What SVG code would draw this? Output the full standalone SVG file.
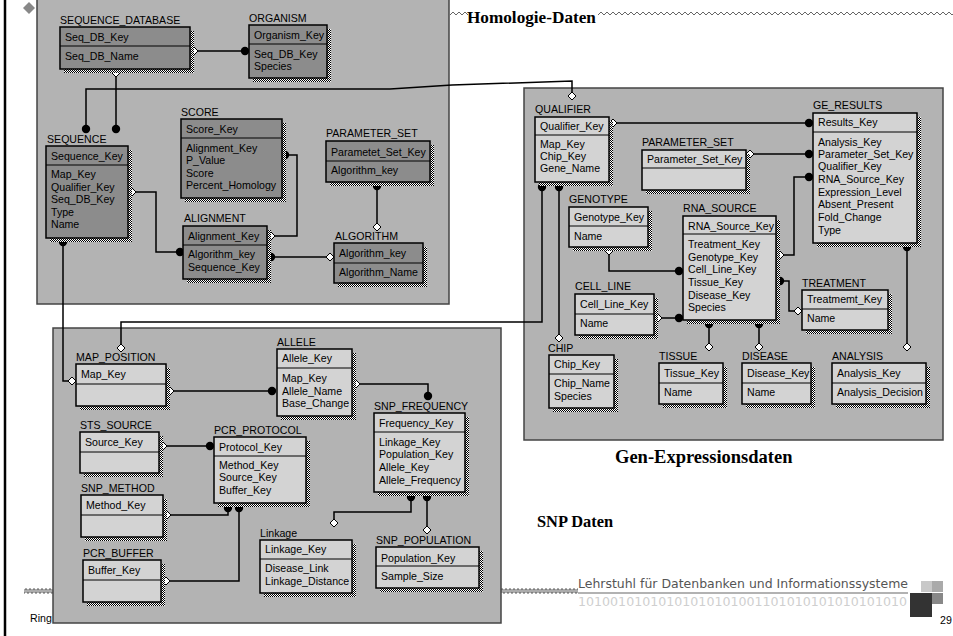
<svg xmlns="http://www.w3.org/2000/svg" width="953" height="636" viewBox="0 0 953 636">
<defs>
<pattern id="dots" width="2" height="2" patternUnits="userSpaceOnUse"><rect width="2" height="2" fill="#fff"/><rect width="1" height="1" fill="#000"/><rect x="1" y="1" width="1" height="1" fill="#000"/></pattern>
<pattern id="sq" x="0" y="588" width="4" height="6" patternUnits="userSpaceOnUse"><path d="M0,5 H1 V1 H3 V5 H4" fill="none" stroke="#444" stroke-width="0.9"/></pattern>
<path id="dm" d="M0,-4 L4,0 L0,4 L-4,0 Z"/>
</defs>
<style>
.t{font-family:"Liberation Sans",Arial,sans-serif;font-size:10.6px;fill:#000}
.ttl{font-family:"Liberation Serif","Times New Roman",serif;font-weight:bold;fill:#000}
.bd{fill:#8c8c8c;stroke:#000;stroke-width:1.5}
.bl{fill:#d3d3d3;stroke:#000;stroke-width:1.5}
.sh{fill:url(#dots)}
.sep{stroke:#000;stroke-width:1}
.pn{fill:#b3b3b3;stroke:#444;stroke-width:1.5}
.c{fill:none;stroke:#000;stroke-width:1.5}
.dt{fill:#000}
.di{fill:#fff;stroke:#000;stroke-width:1}
.zz{fill:none;stroke:#666;stroke-width:1}
</style>
<rect width="953" height="636" fill="#fff"/>
<line x1="5" y1="0" x2="5" y2="636" stroke="#000" stroke-width="2.5"/>
<path d="M29,2 L35,8 L29,14 L23,8 Z" fill="#888"/>

<g id="panels">
<rect class="pn" x="37" y="-1" width="412" height="305"/>
<rect class="pn" x="524" y="88" width="419" height="352"/>
<rect class="pn" x="53" y="328" width="448" height="295"/>
</g>

<g id="captions">
<polyline class="zz" points="450,15 453,12 456,15 459,12 462,15 465,12 468,15"/>
<polyline class="zz" points="598,15 601,12 604,15 607,12 610,15 613,12 616,15 619,12 622,15 625,12 628,15 631,12 634,15 637,12 640,15 643,12 646,15 649,12 652,15 655,12 658,15 661,12 664,15 667,12 670,15 673,12 676,15 679,12 682,15 685,12 688,15 691,12 694,15 697,12 700,15 703,12 706,15 709,12 712,15 715,12 718,15 721,12 724,15 727,12 730,15 733,12 736,15 739,12 742,15 745,12 748,15 751,12 754,15 757,12 760,15 763,12 766,15 769,12 772,15 775,12 778,15 781,12 784,15 787,12 790,15 793,12 796,15 799,12 802,15 805,12 808,15 811,12 814,15 817,12 820,15 823,12 826,15 829,12 832,15 835,12 838,15 841,12 844,15 847,12 850,15 853,12 856,15 859,12 862,15 865,12 868,15 871,12 874,15 877,12 880,15 883,12 886,15 889,12 892,15 895,12 898,15 901,12 904,15 907,12 910,15 913,12 916,15 919,12 922,15 925,12 928,15 931,12 934,15 937,12 940,15 943,12 946,15 949,12 952,15 955,12"/>
<text class="ttl" x="467" y="23" font-size="17.2">Homologie-Daten</text>
<text class="ttl" x="615" y="463" font-size="18.5">Gen-Expressionsdaten</text>
<text class="ttl" x="537" y="527" font-size="16.4">SNP Daten</text>
</g>

<g id="footer">
<rect x="24" y="588" width="29" height="6" fill="url(#sq)"/>
<rect x="501" y="588" width="77" height="6" fill="url(#sq)"/>
<text x="578" y="588" font-family="'DejaVu Sans',sans-serif" font-size="12" fill="#555" textLength="330" lengthAdjust="spacingAndGlyphs">Lehrstuhl für Datenbanken und Informationssysteme</text>
<line x1="578" y1="593" x2="908" y2="593" stroke="#999" stroke-width="1.5"/>
<text x="578" y="606" font-family="'DejaVu Sans',sans-serif" font-size="12" fill="#cfcfcf" textLength="329" lengthAdjust="spacingAndGlyphs">10100101010101010101001101010101010101010</text>
<rect x="921" y="581" width="11" height="11" fill="#c8c8c8"/>
<rect x="932" y="581" width="11" height="11" fill="#aaa"/>
<rect x="921" y="593" width="11" height="11" fill="#c8c8c8"/>
<rect x="932" y="593" width="11" height="11" fill="#888"/>
<rect x="910" y="593" width="22" height="24" fill="#333"/>
<text class="t" x="30" y="622">Ring</text>
<text class="t" x="940" y="624">29</text>
</g>

<g id="connectors">
<path class="c" d="M194,51 H245"/>
<path class="c" d="M116,73 V129"/>
<path class="c" d="M86,129 V89 H390 L452,85 L572,81 V92"/>
<path class="c" d="M132,192 H156 V252 H180"/>
<path class="c" d="M285,155 H297 V236 H271"/>
<path class="c" d="M271,257 H330"/>
<path class="c" d="M377,186 V227"/>
<path class="c" d="M63,242 V381 H69"/>
<path class="c" d="M542,187 V322 H121 V344"/>
<path class="c" d="M559,187 V334"/>
<path class="c" d="M613,123 H809"/>
<path class="c" d="M750,154 H809"/>
<path class="c" d="M780,255 H794 V177 H809"/>
<path class="c" d="M609,251 V271 H679"/>
<path class="c" d="M658,318 H679"/>
<path class="c" d="M780,281 H789 V311 H798"/>
<path class="c" d="M709,324 V347"/>
<path class="c" d="M759,324 V347"/>
<path class="c" d="M907,247 V347"/>
<path class="c" d="M170,391 H272"/>
<path class="c" d="M356,384 H428 V396"/>
<path class="c" d="M163,446 H210"/>
<path class="c" d="M228,508 V515 H167"/>
<path class="c" d="M239,508 V581 H166"/>
<path class="c" d="M411,497 V512 H334 V523"/>
<path class="c" d="M427,497 V530"/>
<g class="dt">
<circle cx="245" cy="51" r="4.2"/><circle cx="116" cy="129" r="4.2"/><circle cx="86" cy="129" r="4.2"/>
<circle cx="180" cy="252" r="4.2"/><circle cx="285" cy="155" r="4.2"/><circle cx="271" cy="257" r="4.2"/>
<circle cx="377" cy="186" r="4.2"/><circle cx="63" cy="242" r="4.2"/><circle cx="542" cy="187" r="4.2"/>
<circle cx="559" cy="187" r="4.2"/><circle cx="809" cy="123" r="4.2"/><circle cx="809" cy="154" r="4.2"/>
<circle cx="809" cy="177" r="4.2"/><circle cx="679" cy="271" r="4.2"/><circle cx="679" cy="318" r="4.2"/>
<circle cx="780" cy="281" r="4.2"/><circle cx="709" cy="324" r="4.2"/><circle cx="759" cy="324" r="4.2"/>
<circle cx="907" cy="247" r="4.2"/><circle cx="272" cy="391" r="4.2"/><circle cx="428" cy="396" r="4.2"/>
<circle cx="210" cy="446" r="4.2"/><circle cx="228" cy="508" r="4.2"/><circle cx="239" cy="508" r="4.2"/>
<circle cx="411" cy="497" r="4.2"/><circle cx="427" cy="497" r="4.2"/>
</g>
<g class="di">
<use href="#dm" x="194" y="51"/><use href="#dm" x="116" y="73"/><use href="#dm" x="572" y="96"/>
<use href="#dm" x="132" y="192"/><use href="#dm" x="271" y="236"/><use href="#dm" x="330" y="257"/>
<use href="#dm" x="377" y="227"/><use href="#dm" x="72" y="381"/><use href="#dm" x="121" y="348"/>
<use href="#dm" x="559" y="338"/><use href="#dm" x="613" y="123"/><use href="#dm" x="750" y="154"/>
<use href="#dm" x="780" y="255"/><use href="#dm" x="609" y="251"/><use href="#dm" x="658" y="318"/>
<use href="#dm" x="798" y="311"/><use href="#dm" x="709" y="347"/><use href="#dm" x="759" y="347"/>
<use href="#dm" x="907" y="347"/><use href="#dm" x="170" y="391"/><use href="#dm" x="356" y="384"/>
<use href="#dm" x="163" y="446"/><use href="#dm" x="167" y="515"/><use href="#dm" x="166" y="581"/>
<use href="#dm" x="334" y="523"/><use href="#dm" x="427" y="530"/>
</g>
</g>

<g id="SEQUENCE_DATABASE">
<rect class="sh" x="64" y="31" width="130" height="42"/><rect class="bd" x="60" y="27" width="130" height="42"/>
<line class="sep" x1="60" y1="46" x2="190" y2="46"/>
<text class="t" x="60" y="24">SEQUENCE_DATABASE</text>
<text class="t" x="65" y="41">Seq_DB_Key</text><text class="t" x="65" y="60">Seq_DB_Name</text>
</g>
<g id="ORGANISM">
<rect class="sh" x="253" y="29" width="78" height="53"/><rect class="bd" x="249" y="25" width="78" height="53"/>
<line class="sep" x1="249" y1="44" x2="327" y2="44"/>
<text class="t" x="249" y="22">ORGANISM</text>
<text class="t" x="254" y="39">Organism_Key</text><text class="t" x="254" y="58">Seq_DB_Key</text><text class="t" x="254" y="70">Species</text>
</g>
<g id="SEQUENCE">
<rect class="sh" x="50" y="150" width="82" height="92"/><rect class="bd" x="46" y="146" width="82" height="92"/>
<line class="sep" x1="46" y1="165" x2="128" y2="165"/>
<text class="t" x="47" y="143">SEQUENCE</text>
<text class="t" x="51" y="160">Sequence_Key</text><text class="t" x="51" y="178">Map_Key</text><text class="t" x="51" y="191">Qualifier_Key</text><text class="t" x="51" y="203">Seq_DB_Key</text><text class="t" x="51" y="216">Type</text><text class="t" x="51" y="228">Name</text>
</g>
<g id="SCORE">
<rect class="sh" x="185" y="123" width="101" height="79"/><rect class="bd" x="181" y="119" width="101" height="79"/>
<line class="sep" x1="181" y1="138" x2="282" y2="138"/>
<text class="t" x="181" y="116">SCORE</text>
<text class="t" x="186" y="133">Score_Key</text><text class="t" x="186" y="152">Alignment_Key</text><text class="t" x="186" y="164">P_Value</text><text class="t" x="186" y="177">Score</text><text class="t" x="186" y="189">Percent_Homology</text>
</g>
<g id="ALIGNMENT">
<rect class="sh" x="187" y="230" width="84" height="53"/><rect class="bd" x="183" y="226" width="84" height="53"/>
<line class="sep" x1="183" y1="245" x2="267" y2="245"/>
<text class="t" x="184" y="222">ALIGNMENT</text>
<text class="t" x="188" y="240">Alignment_Key</text><text class="t" x="188" y="258">Algorithm_key</text><text class="t" x="188" y="271">Sequence_Key</text>
</g>
<g id="PARAMETER_SET_H">
<rect class="sh" x="330" y="145" width="104" height="41"/><rect class="bd" x="326" y="141" width="104" height="41"/>
<line class="sep" x1="326" y1="161" x2="430" y2="161"/>
<text class="t" x="326" y="137">PARAMETER_SET</text>
<text class="t" x="331" y="156">Parametet_Set_Key</text><text class="t" x="331" y="174">Algorithm_key</text>
</g>
<g id="ALGORITHM">
<rect class="sh" x="338" y="247" width="89" height="40"/><rect class="bd" x="334" y="243" width="89" height="40"/>
<line class="sep" x1="334" y1="263" x2="423" y2="263"/>
<text class="t" x="335" y="240">ALGORITHM</text>
<text class="t" x="339" y="257">Algorithm_key</text><text class="t" x="339" y="276">Algorithm_Name</text>
</g>

<g id="QUALIFIER">
<rect class="sh" x="539" y="121" width="74" height="65"/><rect class="bl" x="535" y="117" width="74" height="65"/>
<line class="sep" x1="535" y1="135" x2="609" y2="135"/>
<text class="t" x="535" y="113">QUALIFIER</text>
<text class="t" x="540" y="130">Qualifier_Key</text><text class="t" x="540" y="148">Map_Key</text><text class="t" x="540" y="160">Chip_Key</text><text class="t" x="540" y="172">Gene_Name</text>
</g>
<g id="GE_RESULTS">
<rect class="sh" x="817" y="117" width="104" height="130"/><rect class="bl" x="813" y="113" width="104" height="130"/>
<line class="sep" x1="813" y1="132" x2="917" y2="132"/>
<text class="t" x="813" y="109">GE_RESULTS</text>
<text class="t" x="818" y="126">Results_Key</text><text class="t" x="818" y="146">Analysis_Key</text><text class="t" x="818" y="158">Parameter_Set_Key</text><text class="t" x="818" y="170">Qualifier_Key</text><text class="t" x="818" y="183">RNA_Source_Key</text><text class="t" x="818" y="196">Expression_Level</text><text class="t" x="818" y="208">Absent_Present</text><text class="t" x="818" y="221">Fold_Change</text><text class="t" x="818" y="234">Type</text>
</g>
<g id="PARAMETER_SET_G">
<rect class="sh" x="646" y="154" width="104" height="40"/><rect class="bl" x="642" y="150" width="104" height="40"/>
<line class="sep" x1="642" y1="168" x2="746" y2="168"/>
<text class="t" x="642" y="146">PARAMETER_SET</text>
<text class="t" x="647" y="163">Parameter_Set_Key</text>
</g>
<g id="GENOTYPE">
<rect class="sh" x="573" y="211" width="79" height="40"/><rect class="bl" x="569" y="207" width="79" height="40"/>
<line class="sep" x1="569" y1="226" x2="648" y2="226"/>
<text class="t" x="569" y="203">GENOTYPE</text>
<text class="t" x="574" y="221">Genotype_Key</text><text class="t" x="574" y="240">Name</text>
</g>
<g id="RNA_SOURCE">
<rect class="sh" x="687" y="220" width="93" height="104"/><rect class="bl" x="683" y="216" width="93" height="104"/>
<line class="sep" x1="683" y1="234" x2="776" y2="234"/>
<text class="t" x="683" y="212">RNA_SOURCE</text>
<text class="t" x="688" y="230">RNA_Source_Key</text><text class="t" x="688" y="248">Treatment_Key</text><text class="t" x="688" y="261">Genotype_Key</text><text class="t" x="688" y="273">Cell_Line_Key</text><text class="t" x="688" y="286">Tissue_Key</text><text class="t" x="688" y="299">Disease_Key</text><text class="t" x="688" y="311">Species</text>
</g>
<g id="TREATMENT">
<rect class="sh" x="806" y="294" width="86" height="40"/><rect class="bl" x="802" y="290" width="86" height="40"/>
<line class="sep" x1="802" y1="309" x2="888" y2="309"/>
<text class="t" x="802" y="287">TREATMENT</text>
<text class="t" x="807" y="303">Treatmemt_Key</text><text class="t" x="807" y="322">Name</text>
</g>
<g id="CELL_LINE">
<rect class="sh" x="579" y="298" width="79" height="41"/><rect class="bl" x="575" y="294" width="79" height="41"/>
<line class="sep" x1="575" y1="314" x2="654" y2="314"/>
<text class="t" x="575" y="290">CELL_LINE</text>
<text class="t" x="580" y="308">Cell_Line_Key</text><text class="t" x="580" y="327">Name</text>
</g>
<g id="CHIP">
<rect class="sh" x="553" y="359" width="65" height="53"/><rect class="bl" x="549" y="355" width="65" height="53"/>
<line class="sep" x1="549" y1="374" x2="614" y2="374"/>
<text class="t" x="548" y="352">CHIP</text>
<text class="t" x="554" y="368">Chip_Key</text><text class="t" x="554" y="387">Chip_Name</text><text class="t" x="554" y="400">Species</text>
</g>
<g id="TISSUE">
<rect class="sh" x="663" y="367" width="64" height="41"/><rect class="bl" x="659" y="363" width="64" height="41"/>
<line class="sep" x1="659" y1="383" x2="723" y2="383"/>
<text class="t" x="659" y="360">TISSUE</text>
<text class="t" x="664" y="377">Tissue_Key</text><text class="t" x="664" y="396">Name</text>
</g>
<g id="DISEASE">
<rect class="sh" x="746" y="367" width="69" height="41"/><rect class="bl" x="742" y="363" width="69" height="41"/>
<line class="sep" x1="742" y1="383" x2="811" y2="383"/>
<text class="t" x="742" y="360">DISEASE</text>
<text class="t" x="747" y="377">Disease_Key</text><text class="t" x="747" y="396">Name</text>
</g>
<g id="ANALYSIS">
<rect class="sh" x="836" y="367" width="94" height="41"/><rect class="bl" x="832" y="363" width="94" height="41"/>
<line class="sep" x1="832" y1="383" x2="926" y2="383"/>
<text class="t" x="832" y="360">ANALYSIS</text>
<text class="t" x="837" y="377">Analysis_Key</text><text class="t" x="837" y="396">Analysis_Decision</text>
</g>

<g id="MAP_POSITION">
<rect class="sh" x="80" y="368" width="90" height="42"/><rect class="bl" x="76" y="364" width="90" height="42"/>
<line class="sep" x1="76" y1="384" x2="166" y2="384"/>
<text class="t" x="76" y="361">MAP_POSITION</text>
<text class="t" x="81" y="378">Map_Key</text>
</g>
<g id="ALLELE">
<rect class="sh" x="281" y="353" width="75" height="67"/><rect class="bl" x="277" y="349" width="75" height="67"/>
<line class="sep" x1="277" y1="368" x2="352" y2="368"/>
<text class="t" x="277" y="346">ALLELE</text>
<text class="t" x="282" y="362">Allele_Key</text><text class="t" x="282" y="382">Map_Key</text><text class="t" x="282" y="395">Allele_Name</text><text class="t" x="282" y="407">Base_Change</text>
</g>
<g id="SNP_FREQUENCY">
<rect class="sh" x="378" y="417" width="91" height="79"/><rect class="bl" x="374" y="413" width="91" height="79"/>
<line class="sep" x1="374" y1="432" x2="465" y2="432"/>
<text class="t" x="374" y="410">SNP_FREQUENCY</text>
<text class="t" x="379" y="427">Frequency_Key</text><text class="t" x="379" y="446">Linkage_Key</text><text class="t" x="379" y="458">Population_Key</text><text class="t" x="379" y="471">Allele_Key</text><text class="t" x="379" y="484">Allele_Frequency</text>
</g>
<g id="STS_SOURCE">
<rect class="sh" x="84" y="436" width="79" height="41"/><rect class="bl" x="80" y="432" width="79" height="41"/>
<line class="sep" x1="80" y1="452" x2="159" y2="452"/>
<text class="t" x="80" y="429">STS_SOURCE</text>
<text class="t" x="85" y="446">Source_Key</text>
</g>
<g id="PCR_PROTOCOL">
<rect class="sh" x="218" y="441" width="92" height="66"/><rect class="bl" x="214" y="437" width="92" height="66"/>
<line class="sep" x1="214" y1="456" x2="306" y2="456"/>
<text class="t" x="214" y="434">PCR_PROTOCOL</text>
<text class="t" x="219" y="451">Protocol_Key</text><text class="t" x="219" y="469">Method_Key</text><text class="t" x="219" y="481">Source_Key</text><text class="t" x="219" y="494">Buffer_Key</text>
</g>
<g id="SNP_METHOD">
<rect class="sh" x="85" y="499" width="82" height="42"/><rect class="bl" x="81" y="495" width="82" height="42"/>
<line class="sep" x1="81" y1="515" x2="163" y2="515"/>
<text class="t" x="81" y="492">SNP_METHOD</text>
<text class="t" x="86" y="509">Method_Key</text>
</g>
<g id="PCR_BUFFER">
<rect class="sh" x="87" y="564" width="78" height="42"/><rect class="bl" x="83" y="560" width="78" height="42"/>
<line class="sep" x1="83" y1="580" x2="161" y2="580"/>
<text class="t" x="83" y="557">PCR_BUFFER</text>
<text class="t" x="88" y="574">Buffer_Key</text>
</g>
<g id="Linkage">
<rect class="sh" x="264" y="544" width="92" height="53"/><rect class="bl" x="260" y="540" width="92" height="53"/>
<line class="sep" x1="260" y1="559" x2="352" y2="559"/>
<text class="t" x="260" y="537">Linkage</text>
<text class="t" x="265" y="553">Linkage_Key</text><text class="t" x="265" y="572">Disease_Link</text><text class="t" x="265" y="585">Linkage_Distance</text>
</g>
<g id="SNP_POPULATION">
<rect class="sh" x="380" y="551" width="103" height="41"/><rect class="bl" x="376" y="547" width="103" height="41"/>
<line class="sep" x1="376" y1="566" x2="479" y2="566"/>
<text class="t" x="376" y="544">SNP_POPULATION</text>
<text class="t" x="381" y="562">Population_Key</text><text class="t" x="381" y="580">Sample_Size</text>
</g>
</svg>
